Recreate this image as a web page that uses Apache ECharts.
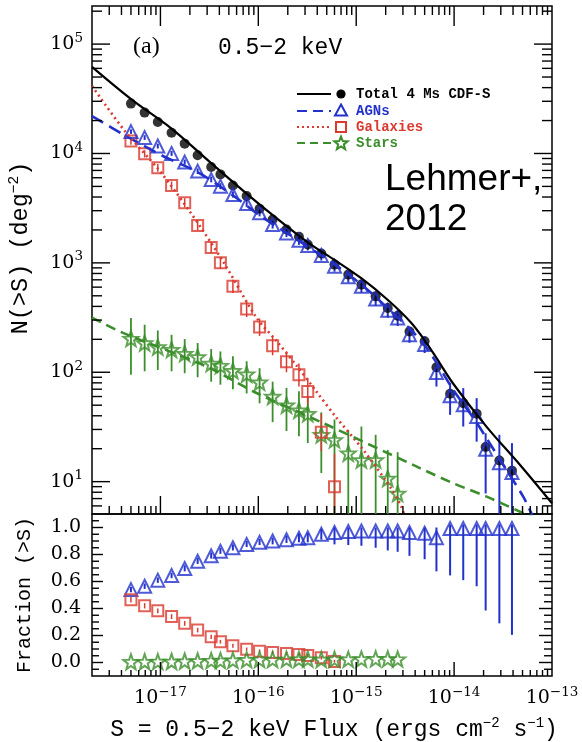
<!DOCTYPE html>
<html>
<head>
<meta charset="utf-8">
<script src="https://cdn.jsdelivr.net/npm/echarts@6/dist/echarts.min.js"></script>
<style>
  html, body { margin: 0; padding: 0; background: #fff; }
  #chart { width: 582px; height: 742px; }
</style>
</head>
<body>
<div id="chart"></div>
<script>
// ---- Cumulative number counts, 0.5-2 keV band ----
// Flux bin positions (erg cm^-2 s^-1)
const flux = [5.0e-18, 6.9e-18, 9.4e-18, 1.3e-17, 1.77e-17, 2.4e-17, 3.3e-17, 4.1e-17,
  5.5e-17, 7.6e-17, 1.03e-16, 1.4e-16, 1.94e-16, 2.6e-16, 3.2e-16, 4.4e-16, 6.0e-16,
  8.3e-16, 1.13e-15, 1.58e-15, 2.1e-15, 2.65e-15, 3.5e-15, 5.0e-15, 6.6e-15, 9.1e-15,
  1.24e-14, 1.7e-14, 2.1e-14, 2.9e-14, 3.9e-14];

// N(>S), deg^-2
const totalN = [28580, 23650, 19400, 15500, 12300, 9620, 7510, 6440, 5100, 4080, 3120,
  2490, 2020, 1730, 1470, 1220, 964, 781, 633, 494, 387, 329, 236, 192, 111, 63.5, 52.2,
  41.7, 20.7, 15.6, 12.6];
const agnN = [15850, 13970, 11700, 10020, 8340, 6900, 5790, 5030, 4220, 3490, 2870, 2240,
  1880, 1610, 1440, 1170, 931, 745, 611, 468, 368, 314, 220, 179, 99.6, 61, 50.4, 39.4,
  19.8, 14.9, 12.1];
const agnLo = [15100, 13300, 11100, 9500, 7900, 6500, 5450, 4720, 3950, 3250, 2660, 2060,
  1720, 1460, 1300, 1050, 830, 660, 535, 405, 315, 265, 186, 150, 74, 40.8, 31.9, 23.2,
  7.8, 4.5, 4.75];
const agnHi = [16600, 14700, 12300, 10550, 8800, 7300, 6150, 5350, 4500, 3740, 3090, 2430,
  2050, 1770, 1590, 1300, 1040, 840, 695, 540, 430, 370, 255, 213, 117, 80, 71.6, 58,
  27.7, 26.8, 22.5];
const galN = [13000, 9960, 7410, 5100, 3540, 2200, 1380, 1000, 611, 379, 259, 175, 125,
  94.8, 66.7, 28.3, 9.0];
const galLo = [12000, 9200, 6800, 4650, 3200, 1980, 1230, 880, 530, 320, 215, 143, 100,
  74, 50, 19, 4];
const galHi = [14000, 10700, 8000, 5550, 3900, 2450, 1550, 1130, 700, 445, 310, 212, 155,
  120, 88, 42, 18];
const starN = [203, 185, 170, 161, 148, 138, 120, 115, 103, 96, 81, 60, 50, 45, 41.7, 26.8,
  24.1, 18.2, 15.8, 15.8, 10.7, 7.8];
const starLo = [95, 102, 105, 102, 98, 90, 82, 77, 70, 64, 52, 35, 29, 26, 22.5, 12, 4, 4,
  4, 4, 4, 4];
const starHi = [313, 272, 241, 220, 201, 185, 163, 155, 140, 126, 109, 82, 72, 67, 60, 43,
  37, 29.7, 31.9, 26.8, 19.5, 18.6];

// Model curves
const totalModelS = [2.0e-18, 5.05e-18, 1.29e-17, 3.32e-17, 1.035e-16, 3.23e-16, 6.05e-16,
  1.135e-15, 2.12e-15, 3.6e-15, 4.92e-15, 6.64e-15, 9.8e-15, 2.15e-14, 4.72e-14, 1.0e-13];
const totalModelN = [62000, 31300, 17000, 8110, 3410, 1530, 1060, 720, 455, 287, 200, 134,
  78.5, 31.7, 14.2, 6.34];
const agnModelS = [2.0e-18, 4.34e-18, 9.84e-18, 2.52e-17, 5.52e-17, 1.035e-16, 2.6e-16,
  6.05e-16, 1.135e-15, 2.12e-15, 3.6e-15, 4.92e-15, 6.64e-15, 9.8e-15, 1.7e-14, 3.18e-14,
  5.1e-14, 6.27e-14];
const agnModelN = [22000, 14660, 9820, 6580, 4130, 2710, 1590, 964, 632, 382, 245, 180,
  122, 69, 34.5, 14.2, 7.25, 4.95];
const galModelS = [2.0e-18, 4.34e-18, 9.55e-18, 2.0e-17, 4.37e-17, 9.6e-17, 1.53e-16,
  2.46e-16, 3.94e-16, 6.3e-16, 1.18e-15, 2.21e-15, 2.9e-15, 3.2e-15];
const galModelN = [41400, 16000, 7140, 2940, 1028, 314, 194, 115, 66.2, 38.3, 19.5, 9.0,
  5.86, 4.46];
const starModelS = [2.0e-18, 4.15e-18, 2.95e-17, 9.6e-17, 4.6e-16, 4.48e-15, 9.8e-15,
  2.15e-14, 4.72e-14, 6.7e-14];
const starModelN = [316, 229, 113, 64.6, 34.3, 13.3, 9.67, 7.3, 5.31, 4.66];

// Source-type fractions of N(>S)
const agnFrac = [0.54, 0.565, 0.61, 0.644, 0.696, 0.75, 0.79, 0.825, 0.85, 0.875, 0.89,
  0.90, 0.91, 0.92, 0.925, 0.95, 0.963, 0.97, 0.975, 0.975, 0.975, 0.975, 0.963, 0.957,
  0.925, 0.993, 0.993, 0.993, 0.993, 0.993, 0.993];
const agnFracLo = [0.52, 0.545, 0.59, 0.625, 0.675, 0.73, 0.77, 0.805, 0.83, 0.855, 0.87,
  0.875, 0.885, 0.89, 0.89, 0.91, 0.875, 0.87, 0.865, 0.85, 0.83, 0.82, 0.79, 0.765, 0.675,
  0.645, 0.61, 0.565, 0.385, 0.29, 0.205];
const agnFracHi = [0.56, 0.585, 0.63, 0.665, 0.72, 0.775, 0.815, 0.85, 0.875, 0.9, 0.915,
  0.925, 0.94, 0.955, 0.96, 0.99, 1.0, 1.0, 1.0, 1.0, 1.0, 1.0, 1.0, 1.0, 1.0, 1.02, 1.02,
  1.02, 1.02, 1.02, 1.02];
const galFrac = [0.465, 0.42, 0.383, 0.34, 0.29, 0.24, 0.19, 0.154, 0.124, 0.099, 0.084,
  0.075, 0.067, 0.06, 0.052, 0.035, 0.008];
const galFracLo = [0.445, 0.40, 0.365, 0.322, 0.272, 0.223, 0.175, 0.14, 0.11, 0.087,
  0.072, 0.063, 0.055, 0.047, 0.04, 0.022, 0.0];
const galFracHi = [0.485, 0.44, 0.40, 0.358, 0.308, 0.257, 0.205, 0.168, 0.138, 0.111,
  0.096, 0.087, 0.079, 0.073, 0.064, 0.048, 0.02];
const starFrac = [0.005, 0.006, 0.007, 0.008, 0.010, 0.012, 0.014, 0.015, 0.017, 0.020,
  0.022, 0.022, 0.023, 0.024, 0.025, 0.022, 0.024, 0.024, 0.026, 0.028, 0.027, 0.025];

// Axis ranges and tick values
const fluxMin = 2.0e-18, fluxMax = 1.0e-13;
const nMin = 5.06, nMax = 2.23e5;
const fracMin = -0.1, fracMax = 1.1;
const fluxMajor = [1e-17, 1e-16, 1e-15, 1e-14];
const nMajor = [10, 100, 1e3, 1e4, 1e5];
const fracMajor = [0, 0.2, 0.4, 0.6, 0.8, 1.0];
const fracMinor = [-0.05, 0.05, 0.1, 0.15, 0.25, 0.3, 0.35, 0.45, 0.5, 0.55, 0.65, 0.7,
  0.75, 0.85, 0.9, 0.95, 1.05];

function logMinors(lo, hi, d0, d1) {
  const out = [];
  for (let d = d0; d <= d1; d++) {
    for (let m = 2; m <= 9; m++) {
      const v = m * Math.pow(10, d);
      if (v > lo * 1.001 && v < hi * 0.999) out.push(v);
    }
  }
  return out;
}
const fluxMinor = logMinors(fluxMin, fluxMax, -18, -14);
const nMinor = logMinors(nMin, nMax, 0, 5);

const BLUE = '#2231cc', RED = '#da3a30', GREEN = '#3b8e2b';
const MONO = '"Liberation Mono", "DejaVu Sans Mono", monospace';
const SERIF = '"DejaVu Serif", "Liberation Serif", serif';
const STAR = 'path://M12,0.5 L14.9,8.6 L23.5,8.9 L16.7,14.2 L19.1,22.5 L12,17.6 L4.9,22.5 L7.3,14.2 L0.5,8.9 L9.1,8.6 Z';

function pairs(xs, ys) { return ys.map((y, i) => [xs[i], y]); }
function bars(lo, hi) { return lo.map((l, i) => [flux[i], l, hi[i]]); }

// Vertical error bars through the axis scales
function errorBars(color, width) {
  return function (params, api) {
    const a = api.coord([api.value(0), api.value(1)]);
    const b = api.coord([api.value(0), api.value(2)]);
    return { type: 'line', shape: { x1: a[0], y1: a[1], x2: b[0], y2: b[1] },
      style: { stroke: color, lineWidth: width } };
  };
}

// Inward frame ticks: [x, y, kind (0 = x tick, 1 = y tick), length, length on opposite side]
function frameTicks(params, api) {
  const cs = params.coordSys;
  const p = api.coord([api.value(0), api.value(1)]);
  const len = api.value(3), len2 = api.value(4);
  const st = { stroke: '#000', lineWidth: 1.4 };
  const kids = [];
  if (api.value(2) === 0) {
    const x = p[0];
    kids.push({ type: 'line', shape: { x1: x, y1: cs.y + cs.height, x2: x, y2: cs.y + cs.height - len }, style: st });
    if (len2 > 0) kids.push({ type: 'line', shape: { x1: x, y1: cs.y, x2: x, y2: cs.y + len2 }, style: st });
  } else {
    const y = p[1];
    kids.push({ type: 'line', shape: { x1: cs.x, y1: y, x2: cs.x + len, y2: y }, style: st });
    kids.push({ type: 'line', shape: { x1: cs.x + cs.width, y1: y, x2: cs.x + cs.width - len2, y2: y }, style: st });
  }
  return { type: 'group', children: kids };
}

const upperTicks = []
  .concat(fluxMajor.map(v => [v, 100, 0, 18, 20]))
  .concat(fluxMinor.map(v => [v, 100, 0, 8, 9]))
  .concat(nMajor.map(v => [1e-15, v, 1, 18, 18]))
  .concat(nMinor.map(v => [1e-15, v, 1, 10, 10]));
const lowerTicks = []
  .concat(fluxMajor.map(v => [v, 0.5, 0, 14, 0]))
  .concat(fluxMinor.map(v => [v, 0.5, 0, 6, 0]))
  .concat(fracMajor.map(v => [1e-15, v, 1, 11, 13]))
  .concat(fracMinor.map(v => [1e-15, v, 1, 7, 8]));

function powLabel(v) {
  const e = Math.log10(v), r = Math.round(e);
  if (Math.abs(e - r) > 1e-6) return '';
  return '{b|10}{s|' + String(r).replace('-', '\u2212') + '}';
}
const powRich = {
  b: { fontFamily: SERIF, fontSize: 19, color: '#000' },
  s: { fontFamily: SERIF, fontSize: 13.5, color: '#000', padding: [0, 0, 12, 0] }
};

function starPoints(cx, cy, ro, ri) {
  const pts = [];
  for (let k = 0; k < 10; k++) {
    const r = k % 2 === 0 ? ro : ri;
    const a = -Math.PI / 2 + k * Math.PI / 5;
    pts.push([cx + r * Math.cos(a), cy + r * Math.sin(a)]);
  }
  return pts;
}

const chart = echarts.init(document.getElementById('chart'), null, { renderer: 'canvas' });

const legendRows = [
  { y: 94, label: 'Total 4 Ms CDF-S', color: '#000', dash: null },
  { y: 111, label: 'AGNs', color: BLUE, dash: [10, 6] },
  { y: 127, label: 'Galaxies', color: RED, dash: [2, 3] },
  { y: 143, label: 'Stars', color: GREEN, dash: [8, 5] }
];
const legendGraphics = [];
legendRows.forEach(r => {
  legendGraphics.push({ type: 'line', shape: { x1: 297, y1: r.y, x2: 331, y2: r.y },
    style: { stroke: r.color, lineWidth: 2.2, lineDash: r.dash } });
  legendGraphics.push({ type: 'text', style: { text: r.label, x: 356, y: r.y,
    fill: r.color, fontFamily: MONO, fontSize: 14, fontWeight: 'bold', verticalAlign: 'middle' } });
});
legendGraphics.push({ type: 'circle', shape: { cx: 341, cy: 94, r: 4.6 }, style: { fill: '#000' } });
legendGraphics.push({ type: 'polygon', shape: { points: [[341, 104.5], [347, 115.5], [335, 115.5]] },
  style: { fill: 'none', stroke: BLUE, lineWidth: 2 } });
legendGraphics.push({ type: 'rect', shape: { x: 336, y: 122, width: 10, height: 10 },
  style: { fill: 'none', stroke: RED, lineWidth: 2 } });
legendGraphics.push({ type: 'polygon', shape: { points: starPoints(341, 143.5, 7, 3) },
  style: { fill: 'none', stroke: GREEN, lineWidth: 2 } });

const option = {
  animation: false,
  backgroundColor: '#fff',
  grid: [
    { left: 92, top: 6, width: 460, height: 508, show: true, borderColor: '#000', borderWidth: 1.5, outerBoundsMode: 'none' },
    { left: 92, top: 514, width: 460, height: 162, show: true, borderColor: '#000', borderWidth: 1.5, outerBoundsMode: 'none' }
  ],
  xAxis: [
    { type: 'log', logBase: 10, gridIndex: 0, min: fluxMin, max: fluxMax,
      axisLine: { show: false }, axisTick: { show: false }, splitLine: { show: false },
      axisLabel: { show: false } },
    { type: 'log', logBase: 10, gridIndex: 1, min: fluxMin, max: fluxMax,
      axisLine: { show: false }, axisTick: { show: false }, splitLine: { show: false },
      axisLabel: { formatter: powLabel, rich: powRich, margin: 9, showMinLabel: true, showMaxLabel: true, hideOverlap: false },
      name: '{t|S = 0.5\u22122 keV Flux (ergs cm}{s|\u22122}{t| s}{s|\u22121}{t|)}',
      nameLocation: 'middle', nameGap: 40,
      nameTextStyle: { padding: [0, 0, 0, 24], rich: {
        t: { fontFamily: MONO, fontSize: 23, color: '#000' },
        s: { fontFamily: MONO, fontSize: 14, color: '#000', padding: [0, 0, 13, 0] } } } }
  ],
  yAxis: [
    { type: 'log', logBase: 10, gridIndex: 0, min: nMin, max: nMax,
      axisLine: { show: false }, axisTick: { show: false }, splitLine: { show: false },
      axisLabel: { formatter: powLabel, rich: powRich, margin: 9, hideOverlap: false },
      name: '{t|N(>S) (deg}{s|\u22122}{t|)}', nameLocation: 'middle', nameRotate: 90, nameGap: 57,
      nameTextStyle: { padding: [0, 0, 0, 24], rich: {
        t: { fontFamily: MONO, fontSize: 23.5, color: '#000' },
        s: { fontFamily: MONO, fontSize: 14.5, color: '#000', padding: [0, 0, 13, 0] } } } },
    { type: 'value', gridIndex: 1, min: fracMin, max: fracMax,
      axisLine: { show: false }, axisTick: { show: false }, splitLine: { show: false },
      axisLabel: { margin: 11, fontFamily: SERIF, fontSize: 19, color: '#000', hideOverlap: false,
        formatter: v => {
          const k = Math.round(v / 0.2);
          return (Math.abs(v - k * 0.2) < 1e-6 && v >= -1e-9 && v <= 1.0001) ? (k * 0.2).toFixed(1) : '';
        } },
      name: 'Fraction (>S)', nameLocation: 'middle', nameRotate: 90, nameGap: 57,
      nameTextStyle: { fontFamily: MONO, fontSize: 20, color: '#000' } }
  ],
  graphic: [
    { type: 'text', style: { text: '(a)', x: 133, y: 47, fill: '#000', fontFamily: '"Liberation Serif", serif', fontSize: 24, verticalAlign: 'middle' } },
    { type: 'text', style: { text: '0.5\u22122 keV', x: 218, y: 48, fill: '#000', fontFamily: MONO, fontSize: 23, verticalAlign: 'middle' } },
    { type: 'text', style: { text: 'Lehmer+,\n2012', x: 385, y: 160, fill: '#000', fontFamily: '"Liberation Sans", Arial, sans-serif', fontSize: 37, lineHeight: 40, verticalAlign: 'top' } }
  ].concat(legendGraphics),
  series: [
    // model curves
    { type: 'line', xAxisIndex: 0, yAxisIndex: 0, data: pairs(totalModelS, totalModelN), smooth: 0.35,
      showSymbol: false, lineStyle: { color: '#000', width: 2.2 }, clip: true, silent: true },
    { type: 'line', xAxisIndex: 0, yAxisIndex: 0, data: pairs(agnModelS, agnModelN), smooth: 0.3,
      showSymbol: false, lineStyle: { color: BLUE, width: 2.6, type: [13, 7] }, clip: true, silent: true },
    { type: 'line', xAxisIndex: 0, yAxisIndex: 0, data: pairs(galModelS, galModelN), smooth: 0.3,
      showSymbol: false, lineStyle: { color: RED, width: 2.6, type: [2, 3.5] }, clip: true, silent: true },
    { type: 'line', xAxisIndex: 0, yAxisIndex: 0, data: pairs(starModelS, starModelN), smooth: 0.3,
      showSymbol: false, lineStyle: { color: GREEN, width: 2.6, type: [10, 6] }, clip: true, silent: true },
    // stars
    { type: 'custom', xAxisIndex: 0, yAxisIndex: 0, data: bars(starLo, starHi), encode: { x: 0, y: [1, 2] },
      renderItem: errorBars(GREEN, 1.8), clip: true, silent: true },
    { type: 'scatter', xAxisIndex: 0, yAxisIndex: 0, data: pairs(flux, starN), symbol: STAR, symbolSize: 15,
      itemStyle: { color: 'rgba(255,255,255,0)', borderColor: GREEN, borderWidth: 2 }, silent: true },
    // galaxies
    { type: 'custom', xAxisIndex: 0, yAxisIndex: 0, data: bars(galLo, galHi), encode: { x: 0, y: [1, 2] },
      renderItem: errorBars(RED, 1.5), clip: true, silent: true },
    { type: 'scatter', xAxisIndex: 0, yAxisIndex: 0, data: pairs(flux, galN), symbol: 'rect', symbolSize: 11,
      itemStyle: { color: 'rgba(255,255,255,0)', borderColor: RED, borderWidth: 2 }, silent: true },
    // total
    { type: 'scatter', xAxisIndex: 0, yAxisIndex: 0, data: pairs(flux, totalN), symbol: 'circle', symbolSize: 10,
      itemStyle: { color: '#000' }, silent: true },
    // AGN
    { type: 'custom', xAxisIndex: 0, yAxisIndex: 0, data: bars(agnLo, agnHi), encode: { x: 0, y: [1, 2] },
      renderItem: errorBars(BLUE, 2), clip: true, silent: true },
    { type: 'scatter', xAxisIndex: 0, yAxisIndex: 0, data: pairs(flux, agnN), symbol: 'triangle', symbolSize: 13,
      itemStyle: { color: 'rgba(255,255,255,0)', borderColor: BLUE, borderWidth: 2 }, silent: true },
    // frame ticks, upper panel
    { type: 'custom', xAxisIndex: 0, yAxisIndex: 0, data: upperTicks, encode: { x: 0, y: 1 },
      renderItem: frameTicks, silent: true, z: 10 },

    // fractions
    { type: 'custom', xAxisIndex: 1, yAxisIndex: 1, data: bars(agnFracLo, agnFracHi), encode: { x: 0, y: [1, 2] },
      renderItem: errorBars(BLUE, 2), clip: true, silent: true },
    { type: 'scatter', xAxisIndex: 1, yAxisIndex: 1, data: pairs(flux, agnFrac), symbol: 'triangle', symbolSize: 13,
      itemStyle: { color: 'rgba(255,255,255,0)', borderColor: BLUE, borderWidth: 2 }, silent: true },
    { type: 'custom', xAxisIndex: 1, yAxisIndex: 1, data: bars(galFracLo, galFracHi), encode: { x: 0, y: [1, 2] },
      renderItem: errorBars(RED, 1.5), clip: true, silent: true },
    { type: 'scatter', xAxisIndex: 1, yAxisIndex: 1, data: pairs(flux, galFrac), symbol: 'rect', symbolSize: 11,
      itemStyle: { color: 'rgba(255,255,255,0)', borderColor: RED, borderWidth: 2 }, silent: true },
    { type: 'scatter', xAxisIndex: 1, yAxisIndex: 1, data: pairs(flux, starFrac), symbol: STAR, symbolSize: 15,
      itemStyle: { color: 'rgba(255,255,255,0)', borderColor: GREEN, borderWidth: 2 }, silent: true },
    { type: 'custom', xAxisIndex: 1, yAxisIndex: 1, data: lowerTicks, encode: { x: 0, y: 1 },
      renderItem: frameTicks, silent: true, z: 10 }
  ]
};
chart.setOption(option);
</script>
</body>
</html>
